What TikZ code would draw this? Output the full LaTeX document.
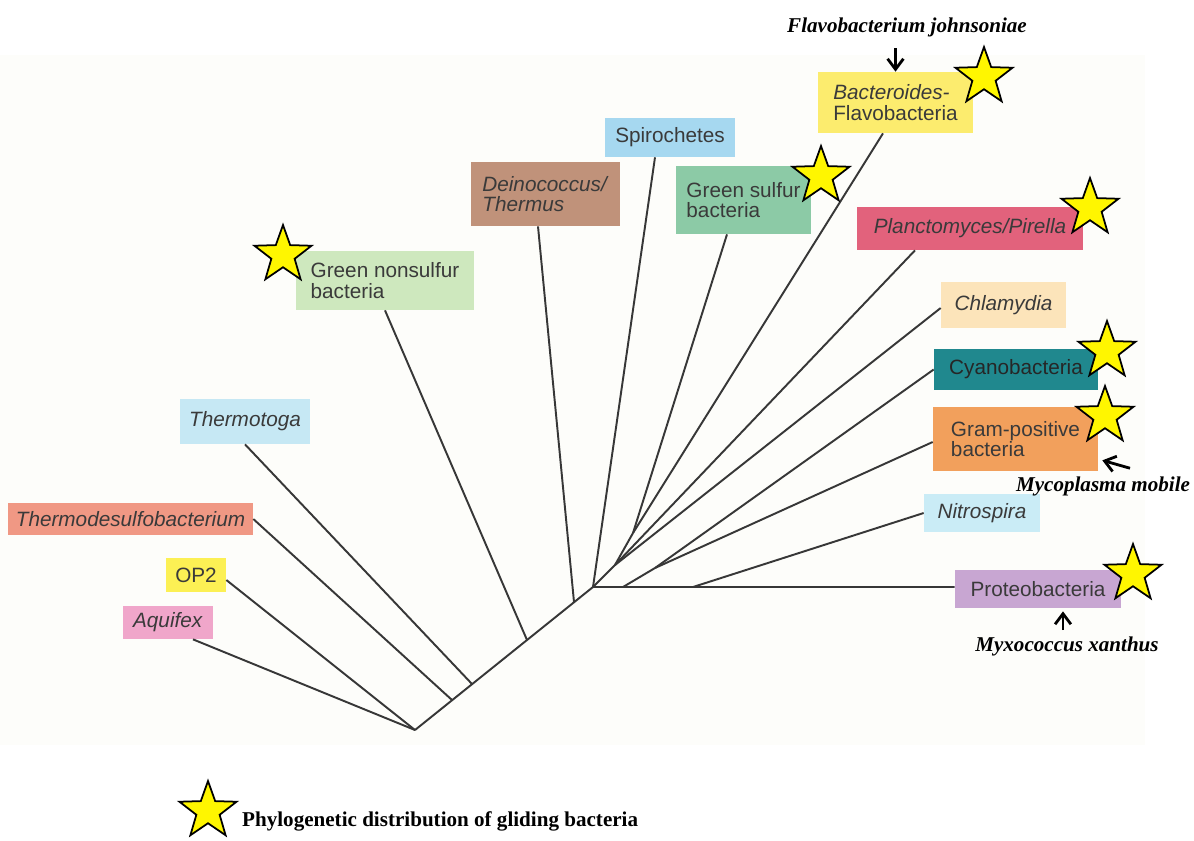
\documentclass[tikz,border=0pt]{standalone}
\usepackage{fontspec}
\setmainfont{Liberation Serif}
\setsansfont{Liberation Sans}
\usetikzlibrary{shapes.geometric,positioning,calc,arrows.meta}

\definecolor{paper}{RGB}{253,253,250}
\definecolor{labelgray}{RGB}{58,58,58}
\definecolor{branchgray}{RGB}{55,55,55}
\definecolor{staryellow}{RGB}{255,246,0}
\definecolor{bactcol}{RGB}{252,236,110}
\definecolor{planccol}{RGB}{226,98,124}
\definecolor{chlamcol}{RGB}{252,228,186}
\definecolor{cyanocol}{RGB}{32,136,142}
\definecolor{gramcol}{RGB}{242,160,92}
\definecolor{nitrocol}{RGB}{202,236,246}
\definecolor{proteocol}{RGB}{200,166,210}
\definecolor{gnonscol}{RGB}{206,232,190}
\definecolor{deinocol}{RGB}{192,146,122}
\definecolor{spirocol}{RGB}{166,216,240}
\definecolor{gsulfcol}{RGB}{140,202,166}
\definecolor{thtogacol}{RGB}{198,232,244}
\definecolor{thdesulfcol}{RGB}{240,152,132}
\definecolor{optwocol}{RGB}{252,240,84}
\definecolor{aquifexcol}{RGB}{240,166,202}

\tikzset{
  taxon/.style={fill=#1, text=labelgray, font=\sffamily\fontsize{11.8}{11.6}\selectfont, inner sep=0pt, align=left},
  glider/.style={star, star points=5, star point ratio=2.45, fill=staryellow, draw=black, line width=1pt, minimum size=1.2cm, inner sep=0pt},
  branch/.style={draw=branchgray, line width=1.1pt},
  callout/.style={-{Straight Barb[length=6pt,width=9pt]}, line width=1.6pt},
  species/.style={font=\bfseries\itshape\fontsize{12}{14}\selectfont}
}

\begin{document}
\begin{tikzpicture}[x=0.02cm, y=-0.02cm]
    \useasboundingbox (0,0) rectangle (1194,840);
    \fill[paper] (0,55) rectangle (1145,745);

    % taxa on the right
    \node[taxon=bactcol, minimum width=3.1cm, minimum height=1.22cm] (bact) at (895.5,102.5) {\textit{Bacteroides-}\\Flavobacteria};
    \node[taxon=planccol, minimum width=4.52cm, minimum height=0.86cm] (planc) at (970,228.5) {\textit{Planctomyces/Pirella}};
    \node[taxon=chlamcol, minimum width=2.5cm, minimum height=0.92cm] (chlam) at (1003.5,305) {\textit{Chlamydia}};
    \node[taxon=cyanocol, text=black!85, minimum width=3.28cm, minimum height=0.82cm] (cyano) at (1016,369.5) {Cyanobacteria};
    \node[taxon=gramcol, minimum width=3.3cm, minimum height=1.28cm] (gram) at (1015.5,439) {Gram-positive\\bacteria};
    \node[taxon=nitrocol, minimum width=2.32cm, minimum height=0.76cm] (nitro) at (982,513) {\textit{Nitrospira}};
    \node[taxon=proteocol, minimum width=3.32cm, minimum height=0.76cm] (proteo) at (1038,589) {Proteobacteria};

    % taxa on top
    \node[taxon=gnonscol, minimum width=3.56cm, minimum height=1.18cm] (gnons) at (385,280.5) {Green nonsulfur\\bacteria};
    \node[taxon=deinocol, minimum width=2.98cm, minimum height=1.28cm] (deino) at (545.5,194) {\textit{Deinococcus/}\\\textit{Thermus}};
    \node[taxon=spirocol, minimum width=2.6cm, minimum height=0.78cm] (spiro) at (670,137.5) {Spirochetes};
    \node[taxon=gsulfcol, minimum width=2.7cm, minimum height=1.36cm] (gsulf) at (743.5,200) {Green sulfur\\bacteria};

    % taxa on the left
    \node[taxon=thtogacol, minimum width=2.6cm, minimum height=0.9cm] (thtoga) at (245,421.5) {\textit{Thermotoga}};
    \node[taxon=thdesulfcol, minimum width=4.9cm, minimum height=0.64cm] (thdesulf) at (130.5,519) {\textit{Thermodesulfobacterium}};
    \node[taxon=optwocol, minimum width=1.2cm, minimum height=0.68cm] (optwo) at (196,575) {OP2};
    \node[taxon=aquifexcol, minimum width=1.8cm, minimum height=0.66cm] (aquifex) at (168,622.5) {\textit{Aquifex}};

    % junctions of the tree
    \coordinate (root) at (415,730);
    \coordinate (jdesulf) at (452,700);
    \coordinate (jtoga) at (472,684);
    \coordinate (jgnons) at (527,640);
    \coordinate (jdeino) at (574,602);
    \coordinate (hub) at (593,587);
    \coordinate (jupper) at (615,565);
    \coordinate (jsulf) at (633,533);
    \coordinate (jlower) at (623,587);
    \coordinate (jgram) at (655,568);
    \coordinate (jnitro) at (693,587);

    \draw[branch] (root) -- (hub) -- (hub -| proteo.west);
    \draw[branch] (root) -- ($(aquifex.south)+(25,0)$);
    \draw[branch] (root) -- ($(optwo.east)+(0,5)$);
    \draw[branch] (jdesulf) -- (thdesulf.east);
    \draw[branch] (jtoga) -- (thtoga.south);
    \draw[branch] (jgnons) -- (gnons.south);
    \draw[branch] (jdeino) -- ($(deino.south)+(-7.5,0)$);
    \draw[branch] (hub) -- ($(spiro.south)+(-15,0)$);
    \draw[branch] (hub) -- (jupper) -- (jsulf);
    \draw[branch] (jsulf) -- ($(gsulf.south)+(-16.5,0)$);
    \draw[branch] (jsulf) -- ($(bact.south)+(-12.5,0)$);
    \draw[branch] (jupper) -- ($(planc.south)+(-55,0)$);
    \draw[branch] (jupper) -- ($(chlam.west)+(0,3)$);
    \draw[branch] (jlower) -- (jgram);
    \draw[branch] (jgram) -- (cyano.west);
    \draw[branch] (jgram) -- ($(gram.west)+(0,3)$);
    \draw[branch] (jnitro) -- (nitro.west);

    % gliding bacteria
    \node[glider] (sbact) at (984,77) {};
    \node[glider] (sgsulf) at (821,176) {};
    \node[glider] (splanc) at (1090,208) {};
    \node[glider] (scyano) at (1107,351) {};
    \node[glider] (sgram) at (1105,416) {};
    \node[glider] (sproteo) at (1133,574) {};
    \node[glider] (sgnons) at (283,255) {};

    % species names
    \node[species] (flavo) at (907,27) {Flavobacterium johnsoniae};
    \node[species] (myco) at (1103,486) {Mycoplasma mobile};
    \node[species] (myxo) at (1067,646) {Myxococcus xanthus};
    \coordinate (mxtip) at ($(proteo.south)+(25,3)$);
    \draw[callout] ([yshift=-3pt]flavo.south -| bact.north) -- (bact.north);
    \draw[callout] ($(myco.north)+(27,-2)$) -- ($(gram.south east)+(4,-11)$);
    \draw[callout] (myxo.north -| mxtip) -- (mxtip);

    % legend
    \node[glider] (legstar) at (208,811) {};
    \node[anchor=west, font=\bfseries\fontsize{12}{14}\selectfont] (legtext) at (236,821) {Phylogenetic distribution of gliding bacteria};
\end{tikzpicture}
\end{document}
